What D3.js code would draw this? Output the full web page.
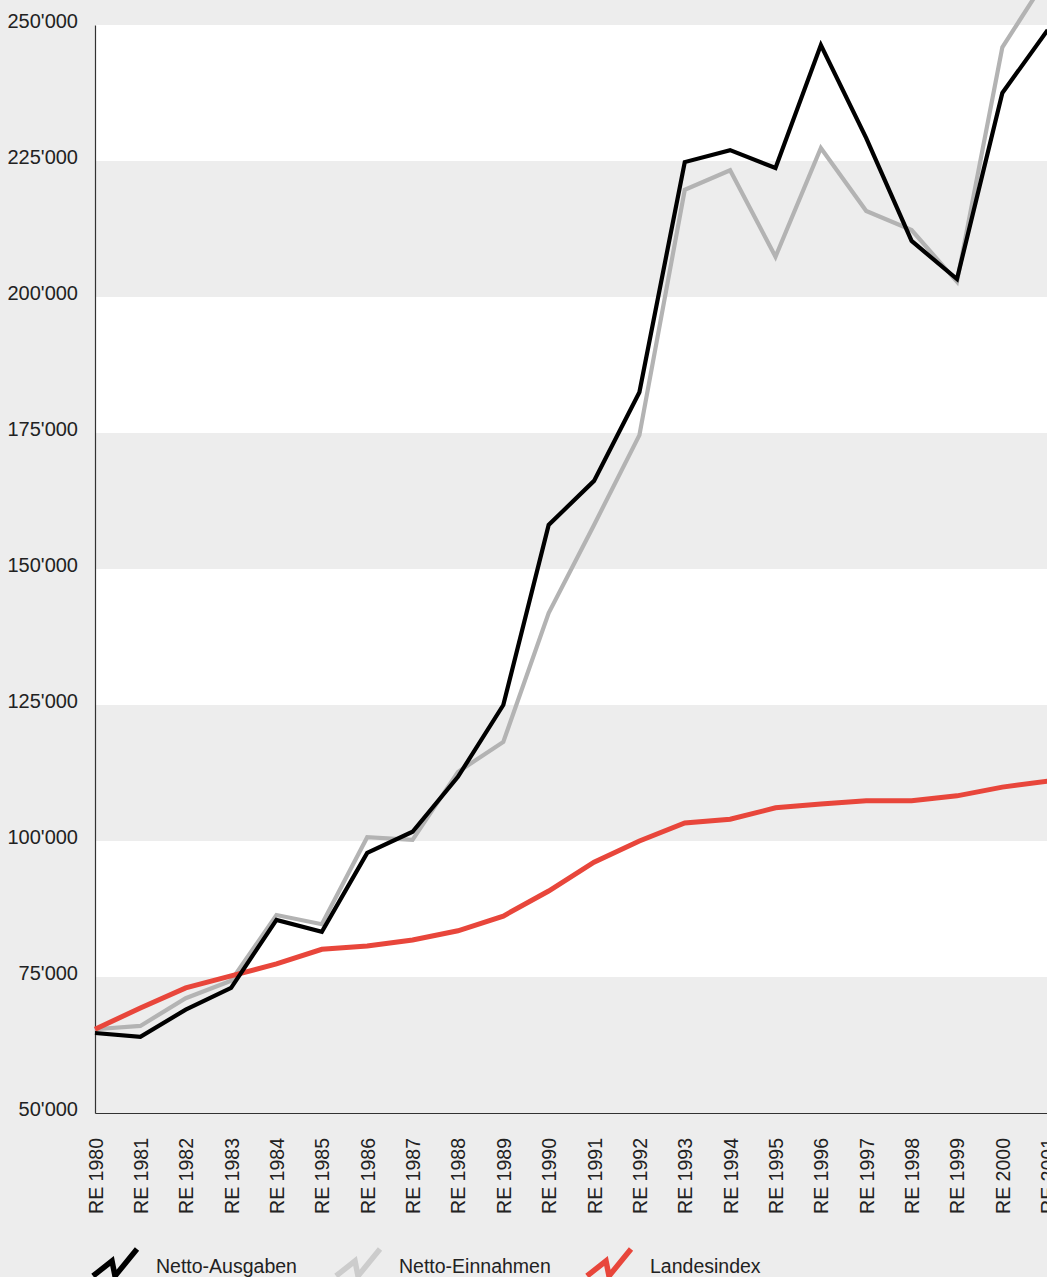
<!DOCTYPE html>
<html>
<head>
<meta charset="utf-8">
<script src="https://cdn.jsdelivr.net/npm/d3@7"></script>
<style>
  html, body { margin: 0; padding: 0; background: #ededed; }
  svg { display: block; }
  text { font-family: "Liberation Sans", Arial, Helvetica, sans-serif; fill: #222; }
</style>
</head>
<body>
<svg id="chart" width="1047" height="1277"></svg>
<script>
// Rechnungsjahre
const years = [1980, 1981, 1982, 1983, 1984, 1985, 1986, 1987, 1988, 1989, 1990,
               1991, 1992, 1993, 1994, 1995, 1996, 1997, 1998, 1999, 2000, 2001];

// Netto-Ausgaben (in 1'000)
const nettoAusgaben = [64700, 64000, 69000, 73000, 85500, 83300, 97800, 101700, 111800, 125000, 158100,
                       166200, 182500, 224800, 227000, 223700, 246300, 229200, 210300, 203300, 237500, 249100];

// Netto-Einnahmen (in 1'000)
const nettoEinnahmen = [65400, 66000, 71100, 74300, 86400, 84700, 100700, 100200, 112700, 118200, 141900,
                        158100, 174600, 219700, 223300, 207400, 227400, 215800, 212300, 202800, 245900, 258900];

// Landesindex
const landesindex = [65400, 69300, 73000, 75200, 77400, 80100, 80700, 81800, 83500, 86200, 90800,
                     96100, 100000, 103300, 104000, 106100, 106800, 107400, 107400, 108300, 109900, 111000];

const yTicks = [50000, 75000, 100000, 125000, 150000, 175000, 200000, 225000, 250000];

const seriesNames = ["Netto-Ausgaben", "Netto-Einnahmen", "Landesindex"];
const seriesColors = ["#000000", "#b3b3b3", "#e8463b"];
const seriesWidths = [4.2, 4.2, 5];
const legendColors = ["#000000", "#cccccc", "#e8463b"];

const W = 1047, H = 1277;
const plotLeft = 95, plotBottom = 1113, plotTop = 25;

const svg = d3.select("#chart");

const x = d3.scaleLinear().domain([1980, 2001]).range([plotLeft, 1047.7]);
const y = d3.scaleLinear().domain([50000, 250000]).range([plotBottom, plotTop]);

const fmt = d3.formatLocale({ decimal: ".", thousands: "'", grouping: [3], currency: ["", ""] }).format(",");

// white bands between every other pair of gridlines
const bands = [[75000, 100000], [125000, 150000], [175000, 200000], [225000, 250000]];
svg.append("g").selectAll("rect").data(bands).join("rect")
  .attr("x", plotLeft)
  .attr("width", W - plotLeft)
  .attr("y", d => y(d[1]))
  .attr("height", d => y(d[0]) - y(d[1]))
  .attr("fill", "#ffffff");

// y axis
const yAxis = svg.append("g")
  .attr("transform", `translate(${plotLeft},0)`)
  .call(d3.axisLeft(y).tickValues(yTicks).tickSize(0).tickPadding(17).tickFormat(fmt));
yAxis.select(".domain").attr("stroke", "#333").attr("stroke-width", 1.2);
yAxis.selectAll("text")
  .attr("dy", "0.1em")
  .style("font-size", "20px")
  .attr("fill", "#222");

// x axis
const xAxis = svg.append("g")
  .attr("transform", `translate(0,${plotBottom})`)
  .call(d3.axisBottom(x).tickValues(years).tickSize(0).tickFormat(d => "RE " + d));
xAxis.select(".domain").attr("stroke", "#333").attr("stroke-width", 1.2);
xAxis.selectAll("text")
  .attr("transform", "translate(0,25) rotate(-90)")
  .attr("x", 0)
  .attr("y", 0)
  .attr("dy", "0.36em")
  .attr("text-anchor", "end")
  .style("font-size", "19.5px")
  .attr("fill", "#222");

// series lines
const seriesData = [nettoAusgaben, nettoEinnahmen, landesindex];
const line = d3.line().x((d, i) => x(years[i])).y(d => y(d));
const drawOrder = [1, 2, 0];
drawOrder.forEach(k => {
  svg.append("path")
    .datum(seriesData[k])
    .attr("d", line)
    .attr("fill", "none")
    .attr("stroke", seriesColors[k])
    .attr("stroke-width", seriesWidths[k])
    .attr("stroke-linejoin", "miter")
    .attr("stroke-miterlimit", 4);
});

// legend
const legendX = [93, 336, 587];
const zig = [[0, 27], [19, 12], [22, 27], [44, 0]];
const legend = svg.append("g");
seriesNames.forEach((name, i) => {
  const g = legend.append("g").attr("transform", `translate(${legendX[i]},1249)`);
  g.append("path")
    .attr("d", d3.line()(zig))
    .attr("fill", "none")
    .attr("stroke", legendColors[i])
    .attr("stroke-width", 5.5);
  g.append("text")
    .attr("x", 63)
    .attr("y", 24)
    .style("font-size", "19.5px")
    .text(name);
});
</script>
</body>
</html>
